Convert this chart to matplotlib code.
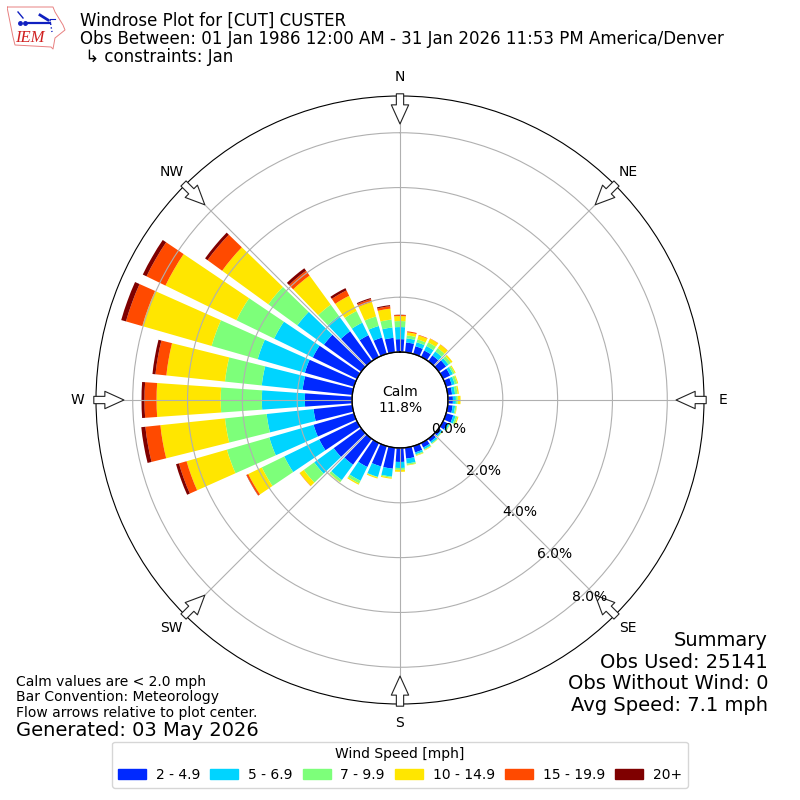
import numpy as np
import matplotlib
matplotlib.use("Agg")
import matplotlib.pyplot as plt
from matplotlib.patches import Patch

directions = list(range(0, 360, 10))
speed_labels = ["2 - 4.9", "5 - 6.9", "7 - 9.9", "10 - 14.9", "15 - 19.9", "20+"]
colors = ["#0029ff", "#00d4ff", "#7dff7a", "#ffe600", "#ff4a00", "#7f0000"]

s1 = [.47,.36,.29,.26,.26,.33,.29,.22,.16,.18,.18,.27,.18,.11,.13,.18,.24,.40,.51,.77,.77,.97,1.17,1.24,1.53,1.53,1.42,1.72,1.82,1.86,1.79,1.68,1.35,.88,.62,.53]
s2 = [.44,.15,.15,.18,.18,.11,.11,.11,.11,.11,.09,.09,.07,.05,.07,.07,.07,.18,.22,.29,.40,.56,.69,.88,1.42,1.68,1.72,1.57,1.50,1.79,1.57,1.20,.69,.51,.44,.38]
s3 = [.22,.11,.11,.15,.15,.11,.07,.09,.09,.07,.05,.07,.03,.02,.03,.03,.04,.05,.07,.04,.02,.11,.09,.47,.91,1.61,1.53,1.50,1.35,1.75,1.53,1.31,.51,.47,.36,.29]
s4 = [.18,.11,.15,.15,.16,.07,.04,.04,.05,.10,.02,.04,.01,.01,.01,.02,.02,.02,.07,.04,.04,.05,.02,.18,.55,1.53,2.37,2.34,2.15,2.63,2.88,2.08,1.31,.62,.55,.40]
s5 = [.04,.04,.02,.01,.01,0,0,0,0,0,0,0,0,0,0,0,0,0,0,0,0,0,0,.01,.07,.29,.55,.44,.40,.62,.77,.66,.22,.22,.11,.09]
s6 = [.01,0,0,0,0,0,0,0,0,0,0,0,0,0,0,0,0,0,0,0,0,0,0,0,.01,.11,.15,.11,.11,.18,.15,.11,.11,.09,.04,.04]
series = [s1, s2, s3, s4, s5, s6]

ring_values = [0, 2, 4, 6, 8]
ring_labels = ["0.0%", "2.0%", "4.0%", "6.0%", "8.0%"]
compass = ["N", "NE", "E", "SE", "S", "SW", "W", "NW"]
compass_deg = [0, 45, 90, 135, 180, 225, 270, 315]
summary_lines = ["Summary", "Obs Used: 25141", "Obs Without Wind: 0", "Avg Speed: 7.1 mph"]

RMAX = 9.34
RORIGIN = -1.75

fig = plt.figure(figsize=(8, 8), dpi=100)
ax = fig.add_axes([0.12, 0.12, 0.76, 0.76], projection="polar")
ax.set_theta_zero_location("N")
ax.set_theta_direction(-1)
ax.set_rorigin(RORIGIN)
ax.set_ylim(0, RMAX)
ax.set_axisbelow(False)

theta = np.deg2rad(directions)
width = np.deg2rad(8)
bottom = np.zeros(len(directions))
for vals, col, lab in zip(series, colors, speed_labels):
    vals = np.array(vals)
    ax.bar(theta, vals, width=width, bottom=bottom, color=col, linewidth=0, label=lab)
    bottom += vals

ax.set_thetagrids(compass_deg, compass, fontsize=10)
ax.tick_params(axis="x", pad=3)
ax.set_rgrids(ring_values, [""] * 5)
ax.grid(True, color="#b0b0b0", lw=0.8)

# inner calm circle
tt = np.linspace(0, 2 * np.pi, 361)
ax.plot(tt, np.zeros_like(tt), color="black", lw=1.0, zorder=5, clip_on=False)

# ring labels, placed from the ring radius along the SE direction
offsets_px = [(15, -5), (11, -2), (8, 1), (4, 4), (1, 8)]
for v, lab, off in zip(ring_values, ring_labels, offsets_px):
    r = (v - RORIGIN) * 304 / (RMAX - RORIGIN)
    px = 400 + r * np.sqrt(0.5) + off[0]
    py = 400 + r * np.sqrt(0.5) + off[1]
    fig.text(px / 800, 1 - py / 800, lab, ha="center", va="center", fontsize=10, zorder=6)

# flow arrows on the compass points
for d in compass_deg:
    t = np.deg2rad(d)
    ax.annotate("", xy=(t, 8.32), xytext=(t, 9.42), annotation_clip=False, zorder=7,
                arrowprops=dict(arrowstyle="simple,head_length=1.1,head_width=1.0,tail_width=0.42",
                                mutation_scale=12.5, fc="white", ec="#222222", lw=0.8,
                                shrinkA=0, shrinkB=0))

fig.text(0.5, 0.5, "Calm\n11.8%", ha="center", va="center", fontsize=10, zorder=8, linespacing=1.15)

fig.text(80 / 800, 1 - 66 / 800,
         "Windrose Plot for [CUT] CUSTER\nObs Between: 01 Jan 1986 12:00 AM - 31 Jan 2026 11:53 PM America/Denver\n \u21b3 constraints: Jan",
         fontsize=12.015, va="bottom", ha="left", linespacing=1.0)

for i, line in enumerate(summary_lines):
    fig.text(768 / 800, 1 - (711 - 21.7 * (3 - i)) / 800, line,
             fontsize=14, ha="right", va="baseline")
fig.text(16 / 800, 1 - 720 / 800, "Calm values are < 2.0 mph\nBar Convention: Meteorology\nFlow arrows relative to plot center.",
         fontsize=10, ha="left", va="bottom", linespacing=1.15)
fig.text(16 / 800, 1 - 740 / 800, "Generated: 03 May 2026", fontsize=14, ha="left", va="bottom")

handles = [Patch(color=c, label=l) for c, l in zip(colors, speed_labels)]
fig.legend(handles=handles, title="Wind Speed [mph]", ncol=6, loc="lower center",
           bbox_to_anchor=(0.5, 0.0068), fontsize=10, title_fontsize=10, framealpha=0.8,
           handletextpad=0.7, columnspacing=0.75)

# IEM logo
logo = fig.add_axes([7 / 800, 1 - 50 / 800, 60 / 800, 44 / 800])
logo.set_xlim(0, 60); logo.set_ylim(44, 0); logo.axis("off")
ox = [0, 46, 48, 56, 58, 48, 46, 44, 8, 6, 3, 0]
oy = [1, 1, 6, 19, 24, 32, 43, 41, 39, 31, 16, 1]
logo.plot(ox, oy, color="#e88080", lw=0.7)
logo.plot([18, 43], [17, 17], color="#1020c0", lw=1.6)
logo.plot([11, 16], [6, 12], color="#1020c0", lw=1)
logo.plot([33, 41], [9, 14], color="#1020c0", lw=2)
logo.plot([43, 48], [13, 13], color="#1020c0", lw=0.8)
logo.plot([43, 45], [14, 26], color="#1020c0", lw=1, ls=":")
logo.plot([13, 18], [17, 17], color="#1020c0", lw=0, marker="o", ms=2.5)
logo.text(23, 32, "IEM", color="#d02020", family="Liberation Serif", style="italic",
          fontsize=12, ha="center", va="center")

fig.savefig("out.png", dpi=100)
